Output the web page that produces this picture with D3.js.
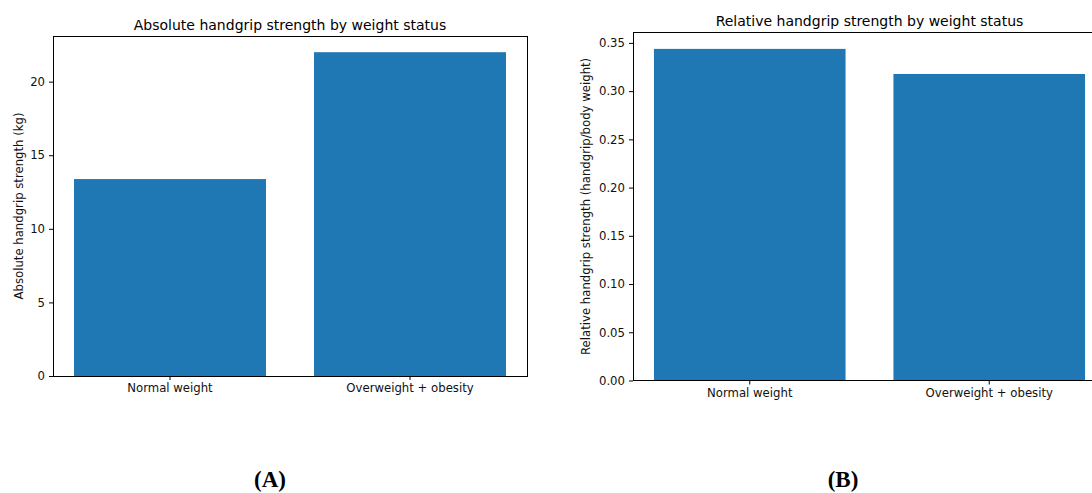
<!DOCTYPE html>
<html>
<head>
<meta charset="utf-8">
<script src="https://cdn.jsdelivr.net/npm/d3@7"></script>
<style>
  body { margin: 0; background: #fff; }
  svg { display: block; font-family: "DejaVu Sans", sans-serif; }
</style>
</head>
<body>
<div id="chart-area"></div>
<script>
// data
let categories = ["Normal weight", "Overweight + obesity"];
let absValues = [13.38, 22.0];
let relValues = [0.3438, 0.3178];
let absTicks = [0, 5, 10, 15, 20];
let relTicks = [0, 0.05, 0.10, 0.15, 0.20, 0.25, 0.30, 0.35];
let panelLabels = ["(A)", "(B)"];

let W = 1092, H = 493;

let svg = d3.select("#chart-area")
    .append("svg")
        .attr("width", W)
        .attr("height", H)

let panels = [
    {
        title: "Absolute handgrip strength by weight status",
        yLabel: "Absolute handgrip strength (kg)",
        values: absValues, ticks: absTicks, fmt: d3.format("d"),
        left: 53, right: 527, top: 36, bottom: 376, yLabelX: 18.5,
        tag: panelLabels[0], tagX: 270
    },
    {
        title: "Relative handgrip strength by weight status",
        yLabel: "Relative handgrip strength (handgrip/body weight)",
        values: relValues, ticks: relTicks, fmt: d3.format(".2f"),
        left: 633, right: 1106, top: 32.3, bottom: 380.5, yLabelX: 586,
        tag: panelLabels[1], tagX: 843
    }
];

panels.forEach(p => {
    let g = svg.append("g")

    // bar width 0.8 like matplotlib, 0.05 margin on the data range
    let x = d3.scaleBand()
        .domain(categories)
        .range([p.left, p.right])
        .paddingInner(0.2)
        .paddingOuter(0.0875);

    let y = d3.scaleLinear()
        .domain([0, d3.max(p.values) * 1.05])
        .range([p.bottom, p.top]);

    g.selectAll("rect")
        .data(p.values)
        .enter()
        .append("rect")
            .attr("x", (d, i) => x(categories[i]))
            .attr("width", x.bandwidth())
            .attr("y", d => y(d))
            .attr("height", d => p.bottom - y(d))
            .attr("fill", "#1f77b4");

    let yAxisCall = d3.axisLeft(y)
        .tickValues(p.ticks)
        .tickFormat(p.fmt)
        .tickSizeInner(4)
        .tickSizeOuter(0)
        .tickPadding(4);

    let xAxisCall = d3.axisBottom(x)
        .tickSizeInner(4)
        .tickSizeOuter(0)
        .tickPadding(4);

    let yAxisGroup = g.append("g")
        .attr("transform", "translate(" + p.left + ",0)")
        .call(yAxisCall);

    let xAxisGroup = g.append("g")
        .attr("transform", "translate(0," + p.bottom + ")")
        .call(xAxisCall);

    [yAxisGroup, xAxisGroup].forEach(ax => {
        ax.select(".domain").remove();
        ax.selectAll("line").attr("stroke", "#000").attr("stroke-width", 1);
        ax.selectAll("text")
            .attr("font-family", "DejaVu Sans")
            .attr("font-size", "11.7px")
            .attr("fill", "#111");
    });

    // frame
    g.append("rect")
        .attr("x", p.left)
        .attr("y", p.top)
        .attr("width", p.right - p.left)
        .attr("height", p.bottom - p.top)
        .attr("fill", "none")
        .attr("stroke", "#000")
        .attr("stroke-width", 1)
        .attr("shape-rendering", "crispEdges");

    g.append("text")
        .attr("x", (p.left + p.right) / 2)
        .attr("y", p.top - 6)
        .attr("font-size", "14px")
        .attr("text-anchor", "middle")
        .attr("fill", "#000")
        .text(p.title);

    g.append("text")
        .attr("transform", "translate(" + p.yLabelX + "," + ((p.top + p.bottom) / 2) + ") rotate(-90)")
        .attr("dy", "0.35em")
        .attr("font-size", "11.7px")
        .attr("text-anchor", "middle")
        .attr("fill", "#111")
        .text(p.yLabel);

    g.append("text")
        .attr("x", p.tagX)
        .attr("y", 487)
        .attr("font-family", "Liberation Serif, serif")
        .attr("font-weight", "bold")
        .attr("font-size", "23px")
        .attr("text-anchor", "middle")
        .attr("fill", "#000")
        .text(p.tag);
});
</script>
</body>
</html>
